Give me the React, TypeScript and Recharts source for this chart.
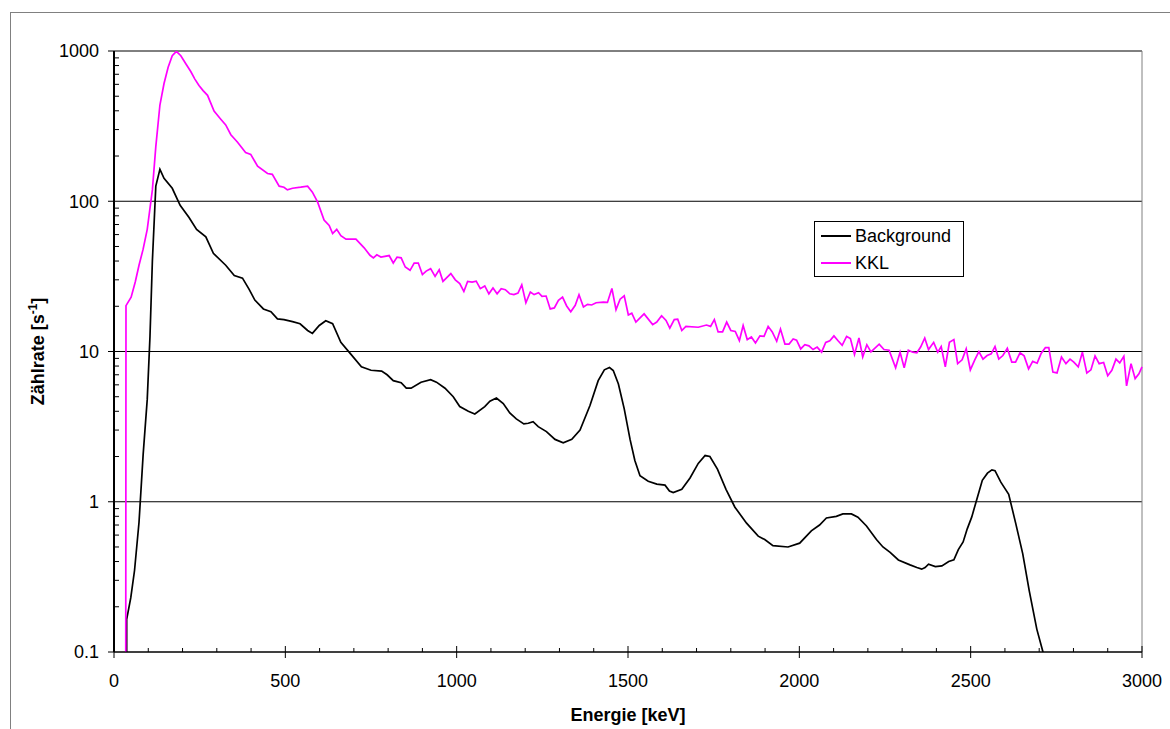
import {
  CartesianGrid,
  Line,
  LineChart,
  ReferenceLine,
  XAxis,
  YAxis,
} from "recharts";

// Background spectrum (keV, counts/s)
const bgEnergy = [
  37, 37, 49, 60, 73, 85, 97, 105, 112, 122, 134, 146, 170, 193, 219, 241, 268,
  290, 326, 351, 375, 394, 411, 436, 458, 477, 496, 521, 543, 565, 579, 599, 618,
  638, 662, 691, 722, 750, 781, 797, 815, 838, 853, 867, 896, 924, 941, 966, 990,
  1009, 1034, 1053, 1082, 1097, 1116, 1136, 1155, 1174, 1196, 1209, 1223, 1238,
  1262, 1287, 1311, 1336, 1360, 1389, 1413, 1431, 1446, 1457, 1472, 1489, 1506,
  1520, 1535, 1559, 1584, 1608, 1621, 1632, 1657, 1681, 1705, 1725, 1739, 1761,
  1786, 1812, 1846, 1880, 1899, 1923, 1967, 2001, 2035, 2059, 2079, 2108, 2127,
  2152, 2171, 2196, 2225, 2244, 2265, 2289, 2323, 2343, 2357, 2367, 2377, 2397,
  2416, 2436, 2451, 2464, 2478, 2490, 2503, 2517, 2534, 2549, 2562, 2571, 2588,
  2611, 2632, 2652, 2671, 2693, 2711, 2720,
];
const bgRate = [
  0.01, 0.165, 0.23, 0.35, 0.73, 2.05, 4.8, 12.6, 40, 126, 163, 142, 122, 94, 78,
  65, 58, 45, 37.5, 32, 30.8, 26, 22, 19.2, 18.4, 16.5, 16.3, 15.8, 15.3, 13.8,
  13.2, 14.9, 16, 15.3, 11.5, 9.6, 7.9, 7.5, 7.4, 7.0, 6.4, 6.2, 5.7, 5.7, 6.25,
  6.5, 6.25, 5.7, 5.0, 4.3, 4.0, 3.84, 4.3, 4.67, 4.9, 4.5, 3.9, 3.56, 3.3, 3.33,
  3.41, 3.16, 2.93, 2.6, 2.47, 2.6, 3.0, 4.37, 6.4, 7.55, 7.82, 7.47, 6.08, 4.15,
  2.6, 1.88, 1.49, 1.37, 1.31, 1.29, 1.18, 1.15, 1.21, 1.44, 1.8, 2.03, 2.0, 1.65,
  1.21, 0.92, 0.72, 0.59, 0.56, 0.51, 0.5, 0.53, 0.64, 0.7, 0.78, 0.8, 0.83, 0.83,
  0.79, 0.69, 0.56, 0.5, 0.46, 0.41, 0.38, 0.365, 0.356, 0.365, 0.384, 0.37,
  0.374, 0.4, 0.41, 0.48, 0.54, 0.66, 0.79, 1.02, 1.39, 1.55, 1.63, 1.61, 1.35,
  1.12, 0.71, 0.45, 0.255, 0.142, 0.1, 0.08,
];

// KKL spectrum (keV, counts/s)
const kklEnergy = [
  34, 35, 50, 62, 73, 85, 97, 112, 122, 134, 146, 158, 170, 182, 195, 210, 224,
  236, 248, 260, 273, 292, 311, 326, 341, 360, 384, 399, 419, 448, 462, 482, 496,
  506, 521, 545, 565, 579, 594, 613, 628, 638, 650, 662, 677, 706, 730, 747, 757,
  767, 779, 803, 815, 826, 838, 850, 864, 876, 888, 900, 911, 924, 937, 949, 960,
  983, 996, 1009, 1021, 1032, 1045, 1057, 1069, 1082, 1094, 1106, 1118, 1130,
  1142, 1155, 1167, 1179, 1190, 1202, 1215, 1226, 1239, 1249, 1261, 1273, 1285,
  1297, 1309, 1321, 1333, 1346, 1357, 1370, 1382, 1394, 1407, 1428, 1440, 1453,
  1465, 1477, 1489, 1501, 1511, 1523, 1547, 1572, 1584, 1598, 1611, 1622, 1635,
  1645, 1657, 1669, 1705, 1729, 1741, 1752, 1763, 1776, 1788, 1800, 1813, 1825,
  1836, 1848, 1860, 1872, 1885, 1897, 1909, 1921, 1934, 1945, 1958, 1970, 1982,
  1992, 2004, 2016, 2028, 2040, 2052, 2065, 2077, 2089, 2101, 2113, 2125, 2138,
  2149, 2161, 2174, 2185, 2197, 2209, 2233, 2247, 2262, 2281, 2294, 2306, 2318,
  2331, 2343, 2354, 2366, 2377, 2392, 2404, 2414, 2426, 2438, 2451, 2462, 2475,
  2487, 2499, 2512, 2524, 2536, 2548, 2560, 2571, 2582, 2594, 2607, 2620, 2631,
  2644, 2656, 2669, 2681, 2694, 2706, 2718, 2728, 2740, 2752, 2765, 2778, 2790,
  2801, 2814, 2826, 2839, 2851, 2863, 2875, 2888, 2900, 2912, 2924, 2935, 2947,
  2955, 2968, 2980, 2991, 3000,
];
const kklRate = [
  0.01, 20.2, 23, 29, 37.5, 48, 65, 119, 231, 437, 608, 780, 930, 995, 930, 820,
  730, 650, 590, 545, 507, 398, 353, 322, 277, 248, 211, 205, 171, 153, 151, 126,
  124, 119, 122, 124, 126, 115, 99, 75, 69, 61, 65, 59, 56, 56, 49, 43.7, 42, 44,
  42.5, 43.5, 38.8, 42.5, 42, 36.5, 34.7, 38.8, 38.8, 32.5, 34.3, 35.6, 31.6, 35,
  29.3, 33, 30, 28.3, 25.1, 29.3, 29, 29.4, 26.2, 27.3, 24.2, 26.5, 24.2, 26.2,
  25.8, 24.2, 23.9, 24.5, 27.8, 21.1, 24.9, 23.9, 24.6, 23.3, 23.4, 19.2, 19.5,
  21.9, 23, 20.1, 18.4, 20.3, 23.9, 19.8, 20.6, 20.4, 21.1, 21.3, 21.2, 26.3, 19,
  22.3, 23.5, 17.5, 18, 15.7, 17.8, 15.1, 15.7, 17.3, 16.1, 14.3, 16.3, 16.4,
  13.8, 14.7, 14.5, 15.0, 14.7, 16.3, 13.5, 13.5, 15.7, 13.8, 13.6, 11.8, 14.9,
  12.0, 12.5, 11.4, 12.7, 12.6, 14.7, 13.5, 11.7, 14.1, 11.2, 11.2, 12.1, 11.9,
  10.4, 11.1, 10.9, 10.3, 10.7, 9.9, 11.5, 11.8, 12.7, 11.8, 11.0, 12.6, 12.2,
  9.55, 12.3, 9.2, 11.1, 9.95, 11.2, 10.3, 10.2, 7.8, 9.9, 7.8, 10.2, 9.9, 9.8,
  10.7, 12.3, 10.3, 11.5, 9.9, 10.8, 7.9, 11.5, 12.0, 8.3, 8.8, 10.4, 7.55, 8.8,
  10.0, 8.9, 9.4, 9.65, 10.8, 8.9, 9.4, 10.5, 8.5, 8.5, 9.8, 9.35, 7.66, 8.6,
  8.36, 9.75, 10.6, 10.6, 7.3, 7.2, 9.2, 8.3, 8.9, 8.5, 7.9, 9.9, 7.2, 7.55, 9.35,
  8.3, 8.45, 6.9, 7.5, 8.9, 8.4, 9.3, 5.9, 8.3, 6.6, 7.1, 7.9,
];

const seriesNames = ["Background", "KKL"];
const seriesColors = ["#000000", "#ff00ff"];

const xTicks = [0, 500, 1000, 1500, 2000, 2500, 3000];
const xMinorTicks = [
  100, 200, 300, 400, 600, 700, 800, 900, 1100, 1200, 1300, 1400, 1600, 1700,
  1800, 1900, 2100, 2200, 2300, 2400, 2600, 2700, 2800, 2900,
];
const yTicks = [0.1, 1, 10, 100, 1000];
const yMinorTicks = [
  0.2, 0.3, 0.4, 0.5, 0.6, 0.7, 0.8, 0.9, 2, 3, 4, 5, 6, 7, 8, 9, 20, 30, 40, 50,
  60, 70, 80, 90, 200, 300, 400, 500, 600, 700, 800, 900,
];

const font = "'Liberation Sans', Arial, sans-serif";

const bgData = bgEnergy.map((e, i) => ({ e, v: bgRate[i] }));
const kklData = kklEnergy.map((e, i) => ({ e, v: kklRate[i] }));

const tickStyle = { fontSize: 18, fill: "#000", fontFamily: font };

// short inward tick marks drawn from the plot edge
const yInnerTick = (len: number) => (p: any) => {
  const x0 = Math.min(p.x1, p.x2);
  return <line x1={x0} y1={p.y1} x2={x0 + len} y2={p.y1} stroke="#000" strokeWidth={1} />;
};
const xInnerTick = (len: number) => (p: any) => {
  const y0 = Math.max(p.y1, p.y2);
  return <line x1={p.x1} y1={y0} x2={p.x1} y2={y0 - len} stroke="#000" strokeWidth={1} />;
};

export default function App() {
  return (
    <div
      style={{
        position: "absolute",
        left: 0,
        top: 0,
        width: 1170,
        height: 729,
        overflow: "hidden",
        background: "#fff",
        fontFamily: font,
      }}
    >
      <div
        style={{
          position: "absolute",
          left: 10,
          top: 12,
          width: 1250,
          height: 800,
          border: "1px solid #808080",
        }}
      />
      <div style={{ position: "absolute", left: 0, top: 0 }}>
        <LineChart
          width={1170}
          height={729}
          margin={{ top: 51, right: 28, bottom: 17, left: 14 }}
        >
          <CartesianGrid vertical={false} stroke="#000" />
          <XAxis
            dataKey="e"
            type="number"
            domain={[0, 3000]}
            ticks={xTicks}
            interval={0}
            height={60}
            tickSize={6}
            tickMargin={16}
            tick={tickStyle}
            stroke="#000"
            label={{
              content: ({ viewBox }: any) => (
                <text
                  x={viewBox.x + viewBox.width / 2}
                  y={viewBox.y + 69}
                  textAnchor="middle"
                  fontSize={18}
                  fontWeight="bold"
                  fontFamily={font}
                  fill="#000"
                >
                  Energie [keV]
                </text>
              ),
            }}
          />
          <YAxis
            scale="log"
            domain={[0.1, 1000]}
            allowDataOverflow
            ticks={yTicks}
            interval={0}
            width={100}
            tickSize={6}
            tickMargin={9}
            tick={tickStyle}
            axisLine={{ stroke: "#000", strokeWidth: 2 }}
            tickLine={{ stroke: "#000" }}
            label={{
              content: ({ viewBox }: any) => {
                const cx = viewBox.x + 30;
                const cy = viewBox.y + viewBox.height / 2;
                return (
                  <text
                    x={cx}
                    y={cy}
                    transform={`rotate(-90, ${cx}, ${cy})`}
                    textAnchor="middle"
                    fontSize={18}
                    fontWeight="bold"
                    fontFamily={font}
                    fill="#000"
                  >
                    Zählrate [s
                    <tspan dy={-7} fontSize={12}>
                      -1
                    </tspan>
                    <tspan dy={7}>]</tspan>
                  </text>
                );
              },
            }}
          />
          <ReferenceLine x={3000} stroke="#808080" />
          {yMinorTicks.map((v) => (
            <ReferenceLine key={`ym${v}`} y={v} shape={yInnerTick(5)} />
          ))}
          {xMinorTicks.map((v) => (
            <ReferenceLine key={`xm${v}`} x={v} shape={xInnerTick(4)} />
          ))}
          {xTicks.map((v) => (
            <ReferenceLine key={`xM${v}`} x={v} shape={xInnerTick(6)} />
          ))}
          <Line
            data={bgData}
            dataKey="v"
            name={seriesNames[0]}
            stroke={seriesColors[0]}
            strokeWidth={1.7}
            dot={false}
            type="linear"
            isAnimationActive={false}
          />
          <Line
            data={kklData}
            dataKey="v"
            name={seriesNames[1]}
            stroke={seriesColors[1]}
            strokeWidth={1.7}
            dot={false}
            type="linear"
            isAnimationActive={false}
          />
        </LineChart>
      </div>
      <div
        style={{
          position: "absolute",
          left: 814,
          top: 221,
          width: 148,
          height: 54,
          border: "1px solid #000",
          background: "#fff",
          fontSize: 18,
          color: "#000",
        }}
      >
        {seriesNames.map((name, i) => (
          <div
            key={name}
            style={{
              position: "absolute",
              left: 6,
              top: 3 + i * 27,
              height: 22,
              display: "flex",
              alignItems: "center",
            }}
          >
            <span
              style={{
                display: "inline-block",
                width: 30,
                height: 0,
                borderTop: `2px solid ${seriesColors[i]}`,
                marginRight: 4,
              }}
            />
            <span>{name}</span>
          </div>
        ))}
      </div>
    </div>
  );
}
